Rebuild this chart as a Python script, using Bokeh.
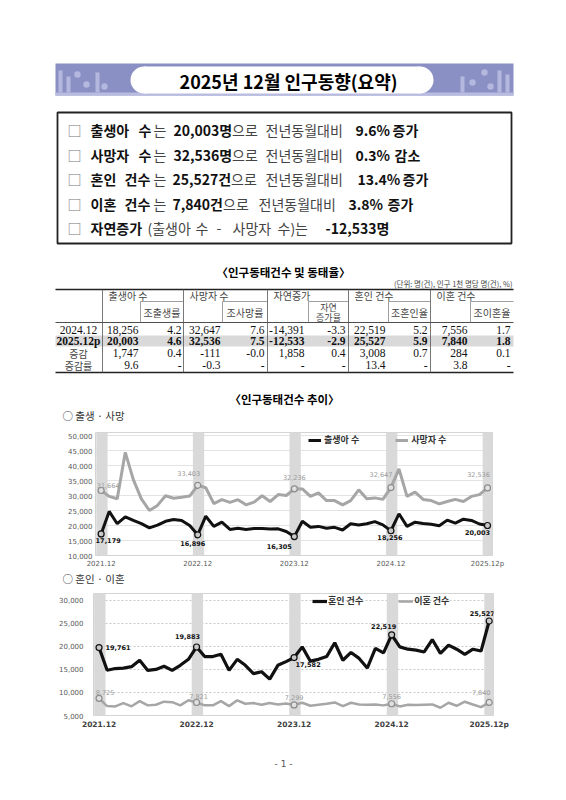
from bokeh.plotting import figure
from bokeh.models import Range1d, FixedTicker, Legend, LegendItem, Label, NumeralTickFormatter
from bokeh.embed import file_html
from bokeh.resources import INLINE
from bokeh.core.properties import value

KR = "Noto Sans CJK KR"
SERIF = "Liberation Serif"
SANS = "DejaVu Sans"
W = 566

# ---------------- data ----------------
title_text = "2025년 12월 인구동향(요약)"

sum_births, sum_births_chg = 20003, 9.6
sum_deaths, sum_deaths_chg = 32536, 0.3
sum_marr, sum_marr_chg = 25527, 13.4
sum_div, sum_div_chg = 7840, 3.8
sum_natural = -12533

tbl_groups = ["출생아 수", "사망자 수", "자연증가", "혼인 건수", "이혼 건수"]
tbl_rate_hdr = ["조출생률", "조사망률", "자연|증가율", "조혼인율", "조이혼율"]
tbl_row_labels = ["2024.12", "2025.12p", "증감", "증감률"]
tbl_2024 = [18256, 4.2, 32647, 7.6, -14391, -3.3, 22519, 5.2, 7556, 1.7]
tbl_2025 = [20003, 4.6, 32536, 7.5, -12533, -2.9, 25527, 5.9, 7840, 1.8]
tbl_diff = [1747, 0.4, -111, -0.0, 1858, 0.4, 3008, 0.7, 284, 0.1]
tbl_pct = [9.6, None, -0.3, None, None, None, 13.4, None, 3.8, None]

month_idx = list(range(49))
x_tick_idx = [0, 12, 24, 36, 48]
x_tick_labels = ["2021.12", "2022.12", "2023.12", "2024.12", "2025.12p"]

births = [17179, 24700, 20600, 22900, 21700, 20600, 19200, 20100, 21400, 22000, 21700, 20000, 16896,
          23100, 19700, 21100, 18700, 19100, 18700, 19000, 19000, 18800, 18900, 18000, 16305,
          21400, 19400, 19700, 19100, 19400, 18500, 20600, 20200, 20600, 21300, 20200, 18256,
          23900, 19700, 21100, 20700, 20400, 19900, 21800, 20800, 22100, 21700, 20500, 20003]
deaths = [31664, 29700, 28900, 44400, 35300, 28900, 25000, 26700, 29900, 29100, 29400, 29800, 33403,
          32600, 27300, 28600, 27700, 28600, 26900, 27800, 29900, 28000, 30300, 30000, 32236,
          32200, 29700, 30900, 28300, 28300, 26900, 28300, 31900, 28900, 29200, 28700, 32647,
          38900, 29700, 31100, 28700, 28300, 27200, 28000, 28700, 28000, 29700, 30300, 32536]
marriages = [19761, 14840, 15200, 15300, 15600, 17000, 14800, 15000, 15700, 14800, 15900, 17200, 19883,
             17800, 17800, 18300, 14800, 17200, 15900, 14100, 14500, 12900, 15900, 16700, 17582,
             19900, 16800, 17200, 17800, 20800, 17000, 18700, 17400, 15300, 19600, 18600, 22519,
             19900, 19400, 19200, 18800, 21500, 18500, 20300, 19400, 18300, 19400, 19000, 25527]
divorces = [8725, 7040, 6970, 7700, 7000, 8130, 7200, 7330, 8000, 7900, 7200, 8300, 7821,
            7200, 7200, 8130, 7040, 8300, 7550, 7700, 7330, 7700, 7400, 7600, 7299,
            7770, 7110, 7330, 7550, 7840, 7040, 7770, 7400, 7330, 7400, 7200, 7556,
            6970, 7330, 7260, 7330, 7400, 6680, 7770, 7110, 7990, 7400, 6830, 7840]

y1_ticks = [10000, 15000, 20000, 25000, 30000, 35000, 40000, 45000, 50000]
y2_ticks = [5000, 10000, 15000, 20000, 25000, 30000]


# ---------------- helpers ----------------
def blank(h, y_top, y_bot):
    f = figure(width=W, height=h, x_range=Range1d(0, W), y_range=Range1d(y_bot, y_top),
               output_backend="svg", toolbar_location=None, x_axis_type=None, y_axis_type=None,
               min_border=0, outline_line_color=None)
    f.background_fill_color = "white"
    f.border_fill_color = "white"
    return f


def txt(f, x, y, s, size, bold=False, color="#000000", align="left", font=KR, baseline="middle"):
    f.text(x=[x], y=[y], text=[s], text_font=value(font), text_font_size=f"{size}px",
           text_font_style="bold" if bold else "normal", text_color=color,
           text_align=align, text_baseline=baseline)


def est_w(s, size, bold):
    w = 0.0
    for ch in s:
        if ord(ch) >= 0x1100:
            w += 1.0
        elif ch.isdigit():
            w += 0.57 if bold else 0.53
        elif ch in ",.":
            w += 0.26
        elif ch == "%":
            w += 0.86
        elif ch == " ":
            w += 0.23
        elif ch in "()-":
            w += 0.34
        else:
            w += 0.55
    return w * size


# ---------------- top section (page y 0..425) ----------------
top = blank(425, 0, 425)

# banner
top.quad(left=[55], right=[513], top=[63], bottom=[95], fill_color="#8b90c4", line_color=None)
top.quad(left=[55], right=[513], top=[92], bottom=[95], fill_color="#b9bce0", line_color=None)
deco = "#b4b8de"
top.quad(left=[58, 66, 95, 460, 497, 505], right=[62, 70, 99, 464, 501, 509],
         top=[70, 76, 72, 76, 70, 74], bottom=[92, 92, 92, 92, 92, 92], fill_color=deco, line_color=None)
top.circle(x=[77, 86, 104, 472, 484, 490], y=[74, 84, 86, 82, 72, 86], radius=3.2,
           fill_color=deco, line_color=None)
top.rect(x=[281.5], y=[79.5], width=[276], height=[27], fill_color="white", line_color=None)
top.circle(x=[143.5, 419.5], y=[79.5, 79.5], radius=13.5, fill_color="white", line_color=None)
txt(top, 288, 80, title_text, 18, bold=True, align="center")

# summary box
top.quad(left=[57], right=[511], top=[112], bottom=[243], fill_color=None, line_color="#222222", line_width=1.8)
rows = [
    [("출생아", True, 90), ("수", True, 138), ("는", False, 153), (f"{sum_births:,}명", True, 173),
     ("으로", False, 227), ("전년동월대비", False, 265), (f"{sum_births_chg}%", True, 355), ("증가", True, 392)],
    [("사망자", True, 90), ("수", True, 138), ("는", False, 153), (f"{sum_deaths:,}명", True, 173),
     ("으로", False, 228), ("전년동월대비", False, 265), (f"{sum_deaths_chg}%", True, 355), ("감소", True, 394)],
    [("혼인", True, 90), ("건수", True, 124), ("는", False, 153), (f"{sum_marr:,}건", True, 172),
     ("으로", False, 228), ("전년동월대비", False, 265), (f"{sum_marr_chg}%", True, 357), ("증가", True, 402)],
    [("이혼", True, 90), ("건수", True, 124), ("는", False, 153), (f"{sum_div:,}건", True, 172),
     ("으로", False, 222), ("전년동월대비", False, 258), (f"{sum_div_chg}%", True, 348), ("증가", True, 387)],
    [("자연증가", True, 90), ("(출생아", False, 145), ("수", False, 195), ("-", False, 216),
     ("사망자", False, 232), ("수)는", False, 277), (f"{sum_natural:,}명", True, 325)],
]
row_y = [129, 154, 178, 203, 227]
for yy, segs in zip(row_y, rows):
    txt(top, 74, yy, "□", 14, color="#777777", align="center")
    prev_end = 0
    for s, b, rx in segs:
        x0 = max(rx, prev_end + 1)
        txt(top, x0, yy, s, 14, bold=b, color="#111111" if b else "#444444")
        prev_end = x0 + est_w(s, 14, b)

# table
txt(top, 283, 271, "〈인구동태건수 및 동태율〉", 11.5, bold=True, align="center")
txt(top, 512, 283, "(단위: 명(건), 인구 1천 명당 명(건), %)", 7.5, color="#444444", align="right")

T_L, T_R = 55, 513
Y_TOP, Y_SUB, Y_HDR, Y_BOT = 289, 301, 322, 372
group_x = [102, 183, 267, 348, 430]
rate_x = [140, 222, 308, 388, 470]
group_r = group_x[1:] + [T_R]

top.quad(left=[T_L], right=[T_R], top=[335], bottom=[346], fill_color="#d9d9d9", line_color=None)
top.segment(x0=[T_L, T_L, T_L], y0=[Y_TOP, Y_HDR, Y_BOT], x1=[T_R, T_R, T_R], y1=[Y_TOP, Y_HDR, Y_BOT],
            line_color="#222222", line_width=[1.5, 0.8, 1.5])
top.segment(x0=group_x, y0=[Y_TOP] * 5, x1=group_x, y1=[Y_BOT] * 5, line_color="#555555", line_width=0.8)
top.segment(x0=rate_x, y0=[Y_SUB] * 5, x1=group_r, y1=[Y_SUB] * 5, line_color="#777777", line_width=0.7)
top.segment(x0=rate_x, y0=[Y_SUB] * 5, x1=rate_x, y1=[Y_HDR] * 5, line_color="#777777", line_width=0.7)

for gx, g in zip(group_x, tbl_groups):
    txt(top, gx + 6, 295, g, 10, color="#444444")
for rx, rr, h in zip(rate_x, group_r, tbl_rate_hdr):
    cx = (rx + rr) / 2
    if "|" in h:
        a, b = h.split("|")
        txt(top, cx, 307, a, 9, color="#444444", align="center")
        txt(top, cx, 316.5, b, 9, color="#444444", align="center")
    else:
        txt(top, cx, 312, h, 10, color="#444444", align="center")

cnt_right = [138, 220, 304, 385, 467]
rate_right = [181, 264, 345, 427, 510]
col_right = []
for c, r in zip(cnt_right, rate_right):
    col_right += [c, r]


def fmt(v, i):
    if v is None:
        return "-"
    if i % 2 == 0 and isinstance(v, int):
        return f"{v:,}"
    return f"{v:.1f}"


row_ys = [329, 340.5, 352.5, 364.5]
for ri, (lab, vals) in enumerate(zip(tbl_row_labels, [tbl_2024, tbl_2025, tbl_diff, tbl_pct])):
    yy = row_ys[ri]
    bold = ri == 1
    if ri < 2:
        txt(top, 78, yy, lab, 11.5, bold=bold, font=SERIF, align="center", color="#111111")
    else:
        txt(top, 78, yy, lab, 10, align="center", color="#444444")
    for i, v in enumerate(vals):
        txt(top, col_right[i], yy, fmt(v, i), 11.5, bold=bold, font=SERIF, align="right", color="#111111")

txt(top, 284, 398, "〈인구동태건수 추이〉", 11.5, bold=True, align="center")
txt(top, 62, 415, "○ 출생 · 사망", 10.5, color="#333333")


# ---------------- charts ----------------
def make_chart(h, bl, br, bt, bb, xr, yr, yticks, bold_x, y_lab, lab_xy, y_standoff, grid_dash):
    p = figure(width=W, height=h, x_range=Range1d(*xr), y_range=Range1d(*yr),
               output_backend="svg", toolbar_location=None,
               min_border_left=bl, min_border_right=br, min_border_top=bt, min_border_bottom=bb)
    p.background_fill_color = "white"
    p.border_fill_color = "white"
    p.outline_line_color = "#d4d4d4"
    p.xaxis.ticker = FixedTicker(ticks=x_tick_idx)
    p.xaxis.major_label_overrides = {i: lab for i, lab in zip(x_tick_idx, x_tick_labels)}
    p.yaxis.ticker = FixedTicker(ticks=yticks)
    p.yaxis.formatter = NumeralTickFormatter(format="0,0")
    for ax in (p.xaxis, p.yaxis):
        ax.axis_line_color = None
        ax.major_tick_line_color = None
        ax.minor_tick_line_color = None
        ax.major_tick_out = 0
        ax.major_label_text_font = SANS
        ax.major_label_text_font_size = "7px"
        ax.major_label_text_color = "#595959"
    p.xaxis.major_label_text_font_size = "7.5px" if bold_x else "7px"
    p.xaxis.major_label_text_font_style = "bold" if bold_x else "normal"
    p.xaxis.major_label_text_color = "#404040" if bold_x else "#595959"
    p.xaxis.major_label_standoff = 4
    p.yaxis.major_label_standoff = y_standoff
    p.xgrid.visible = False
    p.ygrid.grid_line_color = "#e3e3e3"
    if grid_dash:
        p.ygrid.grid_line_dash = "2 2"
        p.ygrid.grid_line_color = "#c8c8c8"
    p.vbar(x=[i + 0.1 for i in x_tick_idx], width=1.4, bottom=yr[0], top=yr[1],
           fill_color="#d9d9d9", line_color=None)
    p.add_layout(Label(x=lab_xy[0], y=lab_xy[1], x_units="screen", y_units="screen", text=y_lab,
                       text_font=SANS, text_font_size="6.5px", text_color="#595959",
                       text_align="center", text_baseline="middle"))
    return p


# chart 1: births / deaths  (page y 425..570, frame x 95..492, y 432..555)
c1 = make_chart(145, 95, 74, 7, 15, (-0.7, 48.62), (10000, 51000), y1_ticks, False, "(명)",
                (-11, 126), 3, False)
rd = c1.line(month_idx, deaths, line_color="#a6a6a6", line_width=3)
rb = c1.line(month_idx, births, line_color="#111111", line_width=3)
c1.scatter(x_tick_idx, [deaths[i] for i in x_tick_idx], size=6, marker="circle",
           fill_color="#e0e0e0", line_color="#8c8c8c", line_width=1.2)
c1.scatter(x_tick_idx, [births[i] for i in x_tick_idx], size=6, marker="circle",
           fill_color="#c8c8c8", line_color="#111111", line_width=1.2)
c1.text(x=x_tick_idx, y=[births[i] for i in x_tick_idx], text=[f"{births[i]:,}" for i in x_tick_idx],
        x_offset=[7, -5, -15, -1, -10], y_offset=[7, 9, 10, 7, 7],
        text_font=value(SANS), text_font_size="6.5px", text_font_style="bold", text_color="#111111",
        text_align="center", text_baseline="middle")
c1.text(x=x_tick_idx, y=[deaths[i] for i in x_tick_idx], text=[f"{deaths[i]:,}" for i in x_tick_idx],
        x_offset=[7, -9, 0, -10, -9], y_offset=[-5, -12, -11, -13, -13],
        text_font=value(SANS), text_font_size="6.5px", text_color="#9a9a9a",
        text_align="center", text_baseline="middle")
leg1 = Legend(items=[LegendItem(label="출생아 수", renderers=[rb]), LegendItem(label="사망자 수", renderers=[rd])],
              orientation="horizontal", location=(213, 109), glyph_width=13, glyph_height=10,
              label_height=10, label_standoff=3, spacing=36, padding=0, margin=0,
              border_line_color=None, background_fill_alpha=0, label_text_font=KR,
              label_text_font_size="9px", label_text_font_style="bold", label_text_color="#333333")
c1.add_layout(leg1)

# caption between charts (page y 570..585)
cap = blank(15, 570, 585)
txt(cap, 62, 578, "○ 혼인 · 이혼", 10.5, color="#333333")

# chart 2: marriages / divorces (page y 585..735, frame x 93..493, y 593..715)
c2 = make_chart(150, 93, 73, 8, 20, (-0.68, 48.53), (5000, 31500), y2_ticks, True, "(건)",
                (-15, 124), 10, True)
rv = c2.line(month_idx, divorces, line_color="#a6a6a6", line_width=2.5)
rm = c2.line(month_idx, marriages, line_color="#111111", line_width=3.2)
c2.scatter(x_tick_idx, [divorces[i] for i in x_tick_idx], size=6, marker="circle",
           fill_color="#e0e0e0", line_color="#8c8c8c", line_width=1.2)
c2.scatter(x_tick_idx, [marriages[i] for i in x_tick_idx], size=6, marker="circle",
           fill_color="#c8c8c8", line_color="#111111", line_width=1.2)
c2.text(x=x_tick_idx, y=[marriages[i] for i in x_tick_idx], text=[f"{marriages[i]:,}" for i in x_tick_idx],
        x_offset=[19, -9, 14, -8, -7], y_offset=[0, -10, 7, -8, -7],
        text_font=value(SANS), text_font_size="6.5px", text_font_style="bold", text_color="#111111",
        text_align="center", text_baseline="middle")
c2.text(x=x_tick_idx, y=[divorces[i] for i in x_tick_idx], text=[f"{divorces[i]:,}" for i in x_tick_idx],
        x_offset=[6, 2, 0, 0, -8], y_offset=[-6, -6, -7, -7, -10],
        text_font=value(SANS), text_font_size="6.5px", text_color="#9a9a9a",
        text_align="center", text_baseline="middle")
leg2 = Legend(items=[LegendItem(label="혼인 건수", renderers=[rm]), LegendItem(label="이혼 건수", renderers=[rv])],
              orientation="horizontal", location=(219, 108), glyph_width=15, glyph_height=10,
              label_height=10, label_standoff=1, spacing=35, padding=0, margin=0,
              border_line_color=None, background_fill_alpha=0, label_text_font=KR,
              label_text_font_size="9px", label_text_font_style="bold", label_text_color="#333333")
c2.add_layout(leg2)

# footer (page y 735..795)
foot = blank(60, 735, 795)
txt(foot, 283, 763, "- 1 -", 9, color="#555555", align="center", font=SANS)

open("out.html", "w").write(file_html([top, c1, cap, c2, foot], INLINE))
